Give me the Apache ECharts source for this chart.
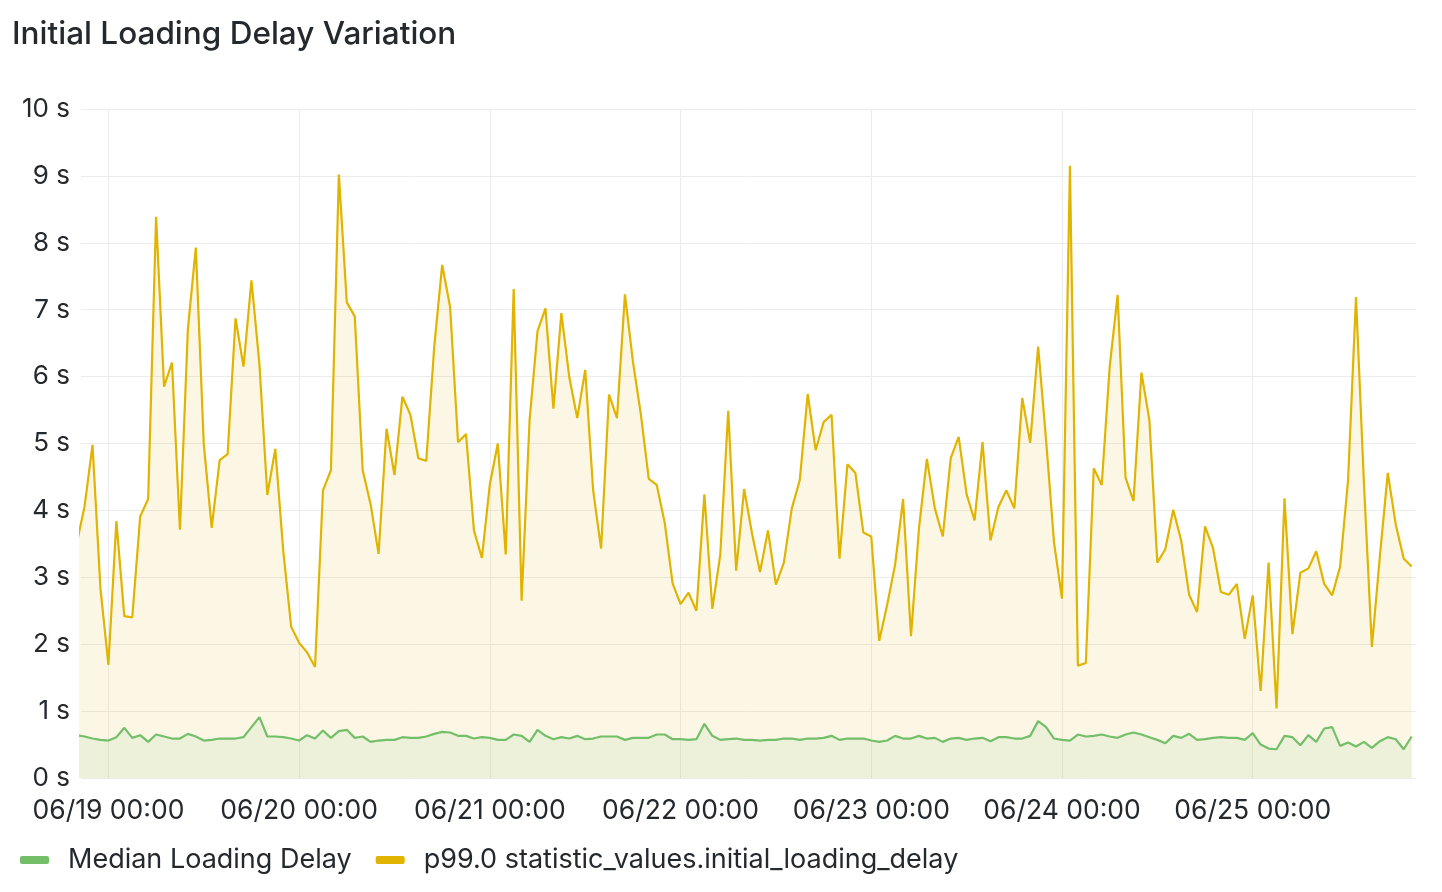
<!DOCTYPE html>
<html>
<head>
    <meta charset="utf-8">
    <script src="https://cdnjs.cloudflare.com/ajax/libs/echarts/6.0.0/echarts.min.js"></script>
</head>
<body>
    <div id="main"></div>
    <style>
html,body { height: 100%; margin: 0; padding: 0; background: #fff; }
#main { width: 1442px; height: 892px; }
    </style>
    <script type="text/javascript">
// hourly samples, first one at 06/18 20:00
var startTime = new Date(2024, 5, 18, 20, 0).getTime();
var HOUR = 3600 * 1000;

var seriesNames = ['Median Loading Delay', 'p99.0 statistic_values.initial_loading_delay'];

var medianDelay = [
    0.64, 0.62, 0.59, 0.57,
    // 06/19
    0.56, 0.61, 0.75, 0.60, 0.64, 0.54, 0.65, 0.62, 0.59, 0.59, 0.66, 0.62,
    0.56, 0.57, 0.59, 0.59, 0.59, 0.61, 0.76, 0.91, 0.62, 0.62, 0.61, 0.59,
    // 06/20
    0.56, 0.64, 0.59, 0.71, 0.60, 0.70, 0.72, 0.60, 0.62, 0.54, 0.56, 0.57,
    0.57, 0.61, 0.60, 0.60, 0.62, 0.66, 0.69, 0.68, 0.63, 0.63, 0.59, 0.61,
    // 06/21
    0.60, 0.57, 0.57, 0.65, 0.63, 0.54, 0.72, 0.63, 0.58, 0.61, 0.59, 0.63,
    0.58, 0.59, 0.62, 0.62, 0.62, 0.57, 0.60, 0.60, 0.60, 0.65, 0.65, 0.58,
    // 06/22
    0.58, 0.57, 0.58, 0.81, 0.63, 0.57, 0.58, 0.59, 0.57, 0.57, 0.56, 0.57,
    0.57, 0.59, 0.59, 0.57, 0.59, 0.59, 0.60, 0.63, 0.57, 0.59, 0.59, 0.59,
    // 06/23
    0.56, 0.54, 0.56, 0.63, 0.59, 0.59, 0.63, 0.59, 0.60, 0.54, 0.59, 0.60,
    0.57, 0.59, 0.60, 0.55, 0.61, 0.61, 0.59, 0.59, 0.63, 0.85, 0.76, 0.59,
    // 06/24
    0.57, 0.56, 0.65, 0.62, 0.63, 0.65, 0.62, 0.60, 0.65, 0.68, 0.65, 0.61,
    0.57, 0.52, 0.63, 0.60, 0.66, 0.57, 0.58, 0.60, 0.61, 0.60, 0.60, 0.57,
    // 06/25
    0.67, 0.50, 0.44, 0.43, 0.63, 0.61, 0.49, 0.64, 0.54, 0.74, 0.76, 0.48,
    0.53, 0.47, 0.54, 0.45, 0.55, 0.61, 0.58, 0.43, 0.62
];

var p99Delay = [
    3.50, 4.06, 4.98, 2.83,
    // 06/19
    1.69, 3.84, 2.42, 2.40, 3.91, 4.17, 8.39, 5.85, 6.21, 3.71, 6.71, 7.93,
    4.99, 3.74, 4.75, 4.84, 6.87, 6.15, 7.44, 6.19, 4.23, 4.92, 3.40, 2.26,
    // 06/20
    2.02, 1.88, 1.66, 4.30, 4.60, 9.02, 7.11, 6.90, 4.60, 4.09, 3.35, 5.22,
    4.53, 5.70, 5.43, 4.78, 4.74, 6.44, 7.67, 7.04, 5.02, 5.14, 3.70, 3.29,
    // 06/21
    4.39, 5.00, 3.34, 7.31, 2.65, 5.35, 6.68, 7.02, 5.52, 6.95, 5.99, 5.38,
    6.10, 4.30, 3.43, 5.73, 5.38, 7.23, 6.23, 5.44, 4.47, 4.38, 3.82, 2.91,
    // 06/22
    2.60, 2.77, 2.50, 4.24, 2.53, 3.34, 5.49, 3.10, 4.32, 3.65, 3.08, 3.70,
    2.89, 3.22, 4.03, 4.45, 5.74, 4.90, 5.32, 5.43, 3.28, 4.69, 4.56, 3.67,
    // 06/23
    3.61, 2.05, 2.59, 3.19, 4.17, 2.12, 3.73, 4.77, 4.03, 3.61, 4.78, 5.10,
    4.24, 3.85, 5.02, 3.55, 4.05, 4.30, 4.03, 5.68, 5.01, 6.45, 5.05, 3.52,
    // 06/24
    2.68, 9.15, 1.68, 1.72, 4.63, 4.38, 6.14, 7.22, 4.49, 4.14, 6.06, 5.35,
    3.22, 3.42, 4.01, 3.55, 2.74, 2.48, 3.76, 3.44, 2.78, 2.74, 2.90, 2.08,
    // 06/25
    2.73, 1.30, 3.22, 1.04, 4.18, 2.15, 3.07, 3.13, 3.39, 2.90, 2.73, 3.16,
    4.45, 7.19, 4.40, 1.96, 3.31, 4.56, 3.79, 3.28, 3.16
];

// day labels on the x axis
var dayTicks = [
    new Date(2024, 5, 19).getTime(),
    new Date(2024, 5, 20).getTime(),
    new Date(2024, 5, 21).getTime(),
    new Date(2024, 5, 22).getTime(),
    new Date(2024, 5, 23).getTime(),
    new Date(2024, 5, 24).getTime(),
    new Date(2024, 5, 25).getTime()
];

// 7 day window
var rangeStart = new Date(2024, 5, 18, 20, 33).getTime();
var rangeEnd = rangeStart + 7 * 24 * HOUR;

function withTime(values) {
    return values.map(function (v, i) {
        return [startTime + i * HOUR, v];
    });
}

function pad(n) {
    return n < 10 ? '0' + n : '' + n;
}

var textColor = '#24292e';
var gridColor = '#ececec';

var option = {
    animation: false,
    title: {
        text: 'Initial Loading Delay Variation',
        left: 12,
        top: 16,
        padding: 0,
        textStyle: {
            fontFamily: 'Inter',
            fontSize: 31.5,
            fontWeight: 500,
            lineHeight: 38,
            color: textColor
        }
    },
    legend: {
        left: 20,
        top: 845,
        padding: 0,
        itemWidth: 29,
        itemHeight: 8,
        itemGap: 24,
        icon: 'roundRect',
        data: seriesNames,
        textStyle: {
            fontFamily: 'Inter',
            fontSize: 27,
            lineHeight: 30,
            color: textColor,
            padding: [0, 0, 0, 14]
        }
    },
    grid: {
        left: 81,
        right: 26,
        top: 109,
        bottom: 114
    },
    xAxis: {
        type: 'value',
        min: rangeStart,
        max: rangeEnd,
        axisLine: { show: false },
        axisTick: { show: false, customValues: dayTicks },
        axisLabel: {
            customValues: dayTicks,
            fontFamily: 'Inter',
            fontSize: 26.5,
            color: textColor,
            margin: 20,
            formatter: function (value) {
                var d = new Date(value);
                return pad(d.getMonth() + 1) + '/' + pad(d.getDate()) + ' ' +
                    pad(d.getHours()) + ':' + pad(d.getMinutes());
            }
        },
        splitLine: { show: true, lineStyle: { color: gridColor, width: 1 } }
    },
    yAxis: {
        type: 'value',
        min: 0,
        max: 10,
        interval: 1,
        axisLine: { show: false },
        axisTick: { show: false },
        axisLabel: {
            fontFamily: 'Inter',
            fontSize: 26,
            color: textColor,
            margin: 11,
            formatter: '{value} s'
        },
        splitLine: { lineStyle: { color: gridColor, width: 1 } }
    },
    series: [
        {
            name: seriesNames[0],
            type: 'line',
            data: withTime(medianDelay),
            showSymbol: false,
            z: 3,
            color: '#73BF69',
            lineStyle: { width: 2.2 },
            areaStyle: { opacity: 0.1 }
        },
        {
            name: seriesNames[1],
            type: 'line',
            data: withTime(p99Delay),
            showSymbol: false,
            z: 2,
            color: '#E0B400',
            lineStyle: { width: 2.2 },
            areaStyle: { opacity: 0.1 }
        }
    ]
};

var chart = echarts.init(document.getElementById('main'));
chart.setOption(option);
    </script>
</body>
</html>
